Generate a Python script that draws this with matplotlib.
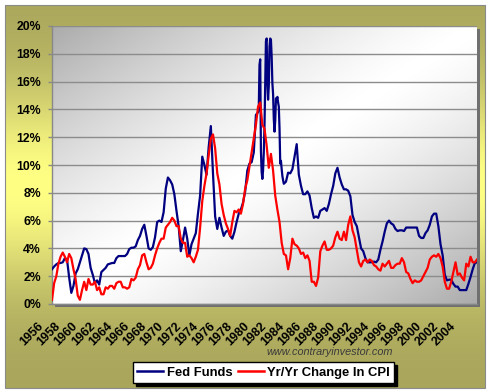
import numpy as np
import matplotlib
matplotlib.use("Agg")
import matplotlib.pyplot as plt
from matplotlib.patches import Rectangle
from matplotlib.transforms import ScaledTranslation

plt.rcParams['font.family'] = ['Liberation Sans', 'DejaVu Sans']

# ---------------- data ----------------
series_names = ["Fed Funds", "Yr/Yr Change In CPI"]

# Fed Funds, quarterly 1956Q1 .. 1979Q4
ff_1956_1979_q = [
    2.5, 2.7, 2.85, 2.95,   # 1956
    2.95, 3.0, 3.3, 3.2,    # 1957
    1.9, 0.8, 1.3, 2.2,     # 1958
    2.5, 3.0, 3.5, 4.0,     # 1959
    3.95, 3.6, 2.6, 2.1,    # 1960
    1.5, 1.7, 1.4, 2.3,     # 1961
    2.45, 2.6, 2.85, 2.9,   # 1962
    2.95, 2.95, 3.3, 3.45,  # 1963
    3.45, 3.45, 3.45, 3.6,  # 1964
    3.95, 4.05, 4.05, 4.15, # 1965
    4.6, 4.9, 5.4, 5.7,     # 1966
    4.9, 4.0, 3.9, 4.1,     # 1967
    4.8, 5.9, 6.0, 5.9,     # 1968
    6.6, 8.3, 9.1, 8.9,     # 1969
    8.6, 7.9, 6.7, 5.6,     # 1970
    3.8, 4.6, 5.5, 4.7,     # 1971
    3.5, 4.3, 4.7, 5.1,     # 1972
    6.5, 7.8, 10.6, 10.0,   # 1973
    9.3, 11.3, 12.8, 9.4,   # 1974
    6.3, 5.4, 6.2, 5.5,     # 1975
    4.9, 5.2, 5.3, 4.9,     # 1976
    4.7, 5.2, 5.9, 6.5,     # 1977
    6.8, 7.3, 8.1, 9.6,     # 1978
    10.1, 10.2, 10.9, 13.6, # 1979
]
# Fed Funds, monthly 1980 .. 1982
ff_1980_1982_m = [
    13.8, 14.1, 17.2, 17.6, 11.0, 9.5, 9.0, 9.6, 10.9, 12.8, 15.9, 18.9,   # 1980
    19.1, 15.9, 14.7, 15.7, 18.5, 19.1, 19.0, 17.8, 15.9, 15.1, 13.3, 12.4, # 1981
    13.2, 14.8, 14.7, 14.9, 14.5, 14.2, 12.6, 10.1, 10.3, 9.7, 9.2, 8.9,    # 1982
]
# Fed Funds, quarterly 1983Q1 .. 2005Q3
ff_1983_2005_q = [
    8.65, 8.8, 9.45, 9.4,   # 1983
    9.7, 10.6, 11.5, 9.3,   # 1984
    8.5, 7.9, 7.9, 8.1,     # 1985
    7.8, 6.9, 6.2, 6.3,     # 1986
    6.2, 6.7, 6.8, 6.9,     # 1987
    6.7, 7.2, 7.9, 8.5,     # 1988
    9.4, 9.8, 9.1, 8.6,     # 1989
    8.25, 8.25, 8.15, 7.75, # 1990
    6.4, 5.9, 5.6, 4.8,     # 1991
    4.0, 3.8, 3.3, 3.0,     # 1992
    3.0, 3.0, 3.05, 3.0,    # 1993
    3.2, 3.9, 4.5, 5.2,     # 1994
    5.8, 6.0, 5.8, 5.7,     # 1995
    5.4, 5.25, 5.3, 5.3,    # 1996
    5.25, 5.5, 5.5, 5.5,    # 1997
    5.5, 5.5, 5.5, 4.9,     # 1998
    4.75, 4.75, 5.1, 5.3,   # 1999
    5.7, 6.3, 6.5, 6.5,     # 2000
    5.6, 4.3, 3.5, 2.1,     # 2001
    1.7, 1.75, 1.75, 1.45,  # 2002
    1.25, 1.25, 1.0, 1.0,   # 2003
    1.0, 1.0, 1.45, 1.95,   # 2004
    2.5, 2.95, 3.0,         # 2005
]
# CPI year-over-year change, quarterly 1956Q1 .. 2005Q3
cpi_1956_2005_q = [
    0.3, 1.5, 2.0, 2.9,     # 1956
    3.4, 3.7, 3.4, 3.0,     # 1957
    3.6, 3.3, 2.5, 1.8,     # 1958
    0.6, 0.3, 1.0, 1.6,     # 1959
    1.0, 1.8, 1.4, 1.4,     # 1960
    1.6, 1.0, 1.2, 0.7,     # 1961
    0.7, 1.2, 1.1, 1.3,     # 1962
    1.3, 1.1, 1.5, 1.6,     # 1963
    1.6, 1.2, 1.2, 1.1,     # 1964
    1.2, 1.8, 1.7, 1.9,     # 1965
    2.5, 2.8, 3.5, 3.6,     # 1966
    3.0, 2.5, 2.6, 2.9,     # 1967
    3.5, 4.0, 4.4, 4.7,     # 1968
    4.7, 5.5, 5.7, 5.9,     # 1969
    6.2, 6.0, 5.6, 5.6,     # 1970
    4.7, 4.4, 4.4, 3.4,     # 1971
    3.5, 3.3, 3.0, 3.4,     # 1972
    3.9, 5.5, 7.4, 8.5,     # 1973
    9.4, 10.7, 11.9, 12.2,  # 1974
    11.2, 9.4, 8.6, 7.2,    # 1975
    6.4, 5.8, 5.4, 4.9,     # 1976
    5.9, 6.7, 6.6, 6.8,     # 1977
    6.5, 7.2, 8.3, 8.9,     # 1978
    9.9, 10.9, 11.9, 12.9,  # 1979
    14.2, 14.5, 12.9, 12.6, # 1980
    11.4, 9.8, 10.8, 9.6,   # 1981
    7.8, 6.8, 5.9, 4.4,     # 1982
    3.6, 3.5, 2.5, 3.3,     # 1983
    4.7, 4.3, 4.2, 4.0,     # 1984
    3.6, 3.7, 3.3, 3.5,     # 1985
    3.1, 1.6, 1.6, 1.3,     # 1986
    1.9, 3.8, 4.2, 4.5,     # 1987
    3.9, 3.9, 4.0, 4.2,     # 1988
    4.8, 5.2, 4.7, 4.6,     # 1989
    5.2, 4.6, 5.7, 6.3,     # 1990
    5.3, 4.8, 3.9, 3.0,     # 1991
    2.7, 3.1, 3.2, 3.0,     # 1992
    3.2, 3.1, 2.8, 2.7,     # 1993
    2.5, 2.4, 2.9, 2.7,     # 1994
    2.9, 3.1, 2.6, 2.6,     # 1995
    2.8, 2.9, 2.9, 3.3,     # 1996
    3.0, 2.3, 2.2, 1.8,     # 1997
    1.5, 1.7, 1.6, 1.6,     # 1998
    1.7, 2.0, 2.3, 2.6,     # 1999
    3.2, 3.4, 3.5, 3.4,     # 2000
    3.6, 3.3, 2.7, 1.6,     # 2001
    1.1, 1.1, 1.6, 2.3,     # 2002
    3.0, 2.1, 2.2, 1.9,     # 2003
    1.7, 2.9, 2.7, 3.4,     # 2004
    3.0, 3.0, 3.2,          # 2005
]
tick_years = list(range(1956, 2005, 2))
ytick_vals = list(range(0, 21, 2))

# ---------------- time axes for the series ----------------
ff_dates = np.concatenate([
    1956 + np.arange(len(ff_1956_1979_q)) / 4.0,
    1980 + np.arange(len(ff_1980_1982_m)) / 12.0,
    1983 + np.arange(len(ff_1983_2005_q)) / 4.0,
])
ff_vals = np.array(ff_1956_1979_q + ff_1980_1982_m + ff_1983_2005_q)
cpi_dates = 1956 + np.arange(len(cpi_1956_2005_q)) / 4.0
cpi_vals = np.array(cpi_1956_2005_q)

# ---------------- figure ----------------
W, H = 490, 392
fig = plt.figure(figsize=(W / 100, H / 100), dpi=100)
fig.patch.set_facecolor('white')

bg = fig.add_axes([0, 0, 1, 1])
bg.set_xlim(0, W)
bg.set_ylim(H, 0)
bg.axis('off')

# olive -> yellow -> olive vertical gradient panel
f = np.linspace(0, 1, 300)
w = np.exp(-((f - 0.47) / 0.26) ** 2)
olive = np.array([168, 165, 92]) / 255.0
yellow = np.array([255, 255, 132]) / 255.0
grad = olive[None, :] + (yellow - olive)[None, :] * w[:, None]
grad = np.repeat(grad[:, None, :], 2, axis=1)
bg.imshow(grad, extent=(5, 485, 388, 5), aspect='auto', origin='upper',
          interpolation='bilinear', zorder=0)
bg.add_patch(Rectangle((5, 5), 480, 383, fill=False, ec='#8a8a8a', lw=0.8, zorder=1))
# plot-area shadow
bg.add_patch(Rectangle((55, 29), 425, 278, fc='#707070', ec='none', zorder=1))

# main plot axes
L, R, T, B = 52, 477, 26, 304
ax = fig.add_axes([L / W, 1 - B / H, (R - L) / W, (B - T) / H])
ax.set_facecolor('white')

x0, x1 = 1956.0, 2005.5
# diagonal gray-white-gray gradient in the plot area
u = np.linspace(0, 1, 300)[None, :]
v = np.linspace(1, 0, 200)[:, None]
d = (u - v + 1) / 2.0
g = 1 - 0.33 * np.abs(2 * d - 1) ** 1.3
ax.imshow(g, cmap='gray', vmin=0, vmax=1, extent=(x0, x1, 0, 20),
          aspect='auto', origin='upper', interpolation='bilinear', zorder=0)

ax.plot(ff_dates, ff_vals, color='#000080', lw=1.6, label=series_names[0], zorder=3)
ax.plot(cpi_dates, cpi_vals, color='#ff0000', lw=1.6, label=series_names[1], zorder=4)

ax.set_xlim(x0, x1)
ax.set_ylim(0, 20)
ax.set_axisbelow(True)
ax.yaxis.grid(True, color='#8c8c8c', lw=1.0)
ax.xaxis.grid(False)

for s in ['top', 'right']:
    ax.spines[s].set_visible(False)
for s in ['left', 'bottom']:
    ax.spines[s].set_color('#888888')
    ax.spines[s].set_linewidth(1.0)

ax.set_yticks(ytick_vals)
ax.set_yticklabels([f"{v_}%" for v_ in ytick_vals], fontsize=8.8, fontweight='bold')
ax.tick_params(axis='y', length=3, width=1, color='#888888', pad=5)

ax.set_xticks(tick_years)
ax.set_xticklabels([str(y) for y in tick_years], rotation=45, ha='right',
                   fontsize=8.9, fontweight='bold')
ax.tick_params(axis='x', length=0, pad=11.5)
off = ScaledTranslation(-6 / 100, 0, fig.dpi_scale_trans)
for lab in ax.get_xticklabels():
    lab.set_transform(lab.get_transform() + off)

# watermark
fig.text(330 / W, 1 - 352 / H, 'www.contraryinvestor.com', ha='center', va='center',
         style='italic', fontsize=7.8, color='#3a3a3a')

# legend
leg = ax.legend(loc='center', bbox_to_anchor=(263.5 / W, 1 - 372.5 / H),
                bbox_transform=fig.transFigure, ncol=2, frameon=True, fancybox=False,
                shadow={'ox': 2.2, 'oy': -2.2, 'facecolor': 'black',
                        'edgecolor': 'black', 'alpha': 1},
                prop={'weight': 'bold', 'size': 9.4},
                handlelength=2.0, handletextpad=0.25, columnspacing=0.4,
                borderpad=0.35, borderaxespad=0)
leg.get_frame().set_edgecolor('black')
leg.get_frame().set_linewidth(1.0)
leg.get_frame().set_alpha(1)
for line in leg.get_lines():
    line.set_linewidth(1.8)

fig.savefig('out.png', dpi=100)
